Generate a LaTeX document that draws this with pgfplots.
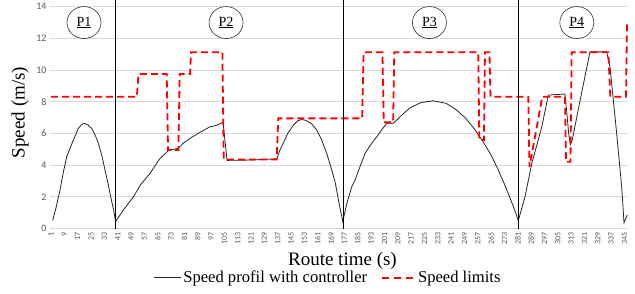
\documentclass[border=0pt]{standalone}
\usepackage{fontspec}
\setmainfont{Liberation Serif}
\newfontfamily\calibri{Carlito}
\usepackage{pgfplots}
\pgfplotsset{compat=1.18}
\definecolor{tickgray}{RGB}{89,89,89}
\definecolor{gridgray}{RGB}{217,217,217}
\tikzset{circ/.style={draw=black!80, line width=0.6pt, ellipse, minimum width=34pt, minimum height=32pt, inner sep=0pt,
        font=\fontsize{14}{16}\selectfont}}
\usetikzlibrary{shapes.geometric}
\begin{document}
\begin{tikzpicture}
\path[use as bounding box] (0,0) rectangle (635pt,293pt);
\begin{axis}[
  at={(50pt,64.5pt)}, anchor=south west,
  width=578pt, height=221.8pt, scale only axis,
  xmin=0.4, xmax=347.1, ymin=0, ymax=14,
  ytick={0,2,...,14}, xtick={1,9,...,345},
  ymajorgrids, major grid style={draw=gridgray, line width=0.8pt},
  axis line style={draw=none}, major tick style={draw=none},
  /pgf/number format/assume math mode=true,
  yticklabel style={font=\calibri\fontsize{10}{12}\selectfont, text=tickgray},
  xticklabel style={font=\calibri\fontsize{8}{9}\selectfont, text=tickgray, rotate=90, anchor=east},
  clip=false,
  xlabel={Route time (s)},
  ylabel={Speed (m/s)},
  label style={font=\fontsize{19}{22}\selectfont},
  xlabel style={at={(axis description cs:0.506,-0.1475)}, anchor=center},
  ylabel style={at={(axis description cs:-0.0519,0.523)}, anchor=center},
  legend columns=2,
  legend style={at={(0.481,-0.222)}, anchor=center, draw=none, fill=none,
    font=\fontsize{16.6}{19}\selectfont,
    /tikz/every even column/.append style={column sep=12pt}},
]
\addplot[black!85, line width=0.8pt,
  legend image code/.code={\draw[black!85, line width=0.8pt] (0pt,0pt) -- (27pt,0pt);}]
coordinates {
(2,0.5) (4,1.3) (6.4,2.43) (8.5,3.6) (10.4,4.53) (14.4,5.58) (17.4,6.32) (19.5,6.58)
(21,6.64) (23,6.55) (25.4,6.32) (27.5,5.9) (29.4,5.38) (31.5,4.6) (33.4,3.69) (35.2,2.85)
(36.8,2.0) (38.5,1.2) (39.8,0.45) (45,1.25) (50.4,2.0) (55,2.8) (60.4,3.48) (66.4,4.43)
(71.8,4.95) (74.5,5.0) (77.4,5.06) (80.5,5.4) (84.4,5.69) (90,6.05) (96.4,6.42) (100,6.5)
(104.2,6.7) (106.6,4.3) (120,4.32) (136.4,4.4) (138.5,5.0) (140.4,5.4) (143,6.0) (146.4,6.53)
(149,6.8) (151.4,6.88) (154,6.82) (157.4,6.6) (160.5,6.2) (163.4,5.58) (166.5,4.7) (169.4,3.69)
(171.5,2.9) (173.4,1.8) (176,0.45) (178.5,1.6) (181.4,2.64) (183.4,3.06) (186.5,3.95) (189.4,4.74)
(192.5,5.25) (196.4,5.79) (199.5,6.25) (202.4,6.64) (206.4,6.64) (211.4,7.16) (216.4,7.62) (223,7.95)
(230.3,8.06) (238,7.9) (244,7.5) (249.4,7.0) (254.5,6.35) (259.4,5.6) (264.4,4.75) (269.3,3.7)
(273,2.8) (275.3,2.2) (278.5,1.35) (281.3,0.5) (285.3,2.0) (289.4,4.11) (292.5,5.3) (295.4,6.42)
(299.3,8.42) (309.3,8.49) (310.5,7.2) (311.5,6.0) (312.5,5.3) (313.7,5.6) (318,7.9) (324.3,11.15)
(334.3,11.15) (336.3,10.2) (340.3,6.0) (343.3,2.64) (344.7,0.37) (346.7,0.85)
};
\addlegendentry{Speed profil with controller}
\addplot[red, line width=1.8pt, dash pattern=on 7pt off 4pt,
  legend image code/.code={\draw[red, line width=1.8pt, dash pattern=on 7pt off 5pt] (0pt,0pt) -- (33pt,0pt);}]
coordinates {
(1,8.32) (52.5,8.32) (53.5,9.75) (70.4,9.75) (71.2,4.95) (77.4,4.95) (78.2,9.75) (84.4,9.75)
(85,11.12) (103.8,11.12) (104.6,4.36) (136.4,4.36) (137.3,6.95) (187.6,6.95) (188.5,11.12)
(199.8,11.12) (200.6,6.7) (206.2,6.7) (206.9,11.12) (257.3,11.12) (257.9,5.58) (260.7,5.58)
(261.3,11.12) (264,11.12) (264.6,8.32) (287.3,8.32) (288,3.9) (295.7,8.32) (309.3,8.32)
(309.9,4.21) (312.6,4.21) (313.3,11.12) (335.3,11.12) (336.5,8.32) (345.9,8.32) (346.5,12.98)
};
\addlegendentry{Speed limits}
\addplot[black, line width=0.9pt, forget plot] coordinates {(39.8,0) (39.8,14.4)};
\addplot[black, line width=0.9pt, forget plot] coordinates {(176.3,0) (176.3,14.4)};
\addplot[black, line width=0.9pt, forget plot] coordinates {(281.3,0) (281.3,14.4)};
\node[circ] at (axis cs:20.8,13) {\underline{P1}};
\node[circ] at (axis cs:106,13) {\underline{P2}};
\node[circ] at (axis cs:228,13) {\underline{P3}};
\node[circ] at (axis cs:316.4,13) {\underline{P4}};
\end{axis}
\end{tikzpicture}
\end{document}
